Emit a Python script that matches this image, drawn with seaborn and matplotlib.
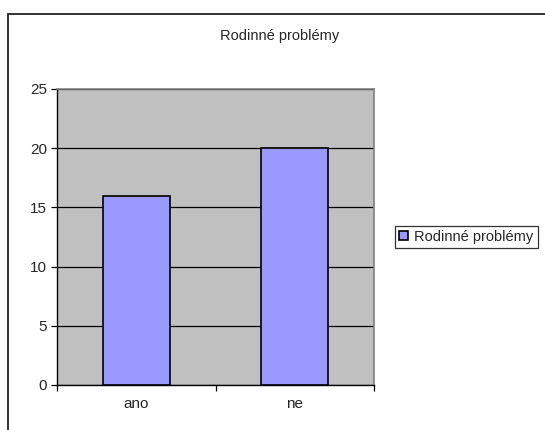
import matplotlib
matplotlib.use("Agg")
import matplotlib.pyplot as plt
import seaborn as sns
import pandas as pd
from matplotlib.patches import Rectangle
from matplotlib.ticker import FixedLocator

categories = ["ano", "ne"]
values = [16, 20]
series_name = "Rodinné problémy"
title = "Rodinné problémy"
yticks = [0, 5, 10, 15, 20, 25]

sns.set_theme(style="white")
plt.rcParams["font.family"] = ["Liberation Sans", "DejaVu Sans"]

fig = plt.figure(figsize=(5.45, 4.3), dpi=100)
fig.patch.set_facecolor("white")

# chart-area frame
fig.patches.append(Rectangle((8 / 545, -0.1), 1.2, (430 - 14) / 430 + 0.1,
                             transform=fig.transFigure, fill=False,
                             edgecolor="#222222", linewidth=1.3))

ax = fig.add_axes([57 / 545, 45 / 430, (374 - 57) / 545, (385 - 89) / 430])
ax.set_facecolor("#C0C0C0")

df = pd.DataFrame({"kategorie": categories, "pocet": values})
sns.barplot(data=df, x="kategorie", y="pocet", color="#9999FF",
            edgecolor="black", linewidth=1.2, width=0.42, saturation=1,
            label=series_name, ax=ax, zorder=3)

ax.set_xlim(-0.5, len(categories) - 0.5)
ax.set_ylim(0, 25)
ax.set_yticks(yticks)
ax.yaxis.grid(True, color="black", linewidth=0.9, zorder=1)
ax.set_axisbelow(True)
ax.set_xlabel("")
ax.set_ylabel("")

for side in ["top", "right"]:
    ax.spines[side].set_color("#808080")
    ax.spines[side].set_linewidth(1.2)
for side in ["left", "bottom"]:
    ax.spines[side].set_color("black")
    ax.spines[side].set_linewidth(1.0)

ax.tick_params(axis="y", direction="out", length=4, width=0.9, color="black",
               labelsize=11, pad=3, left=True)
ax.tick_params(axis="x", which="major", length=0, labelsize=11, pad=9)
ax.xaxis.set_minor_locator(FixedLocator([-0.5, 0.5, 1.5]))
ax.tick_params(axis="x", which="minor", direction="out", length=4,
               width=0.9, color="black", bottom=True)

fig.text(280 / 545, 1 - 36 / 430, title, ha="center", va="center", fontsize=10.5)

leg = ax.legend(loc="center left", bbox_to_anchor=(395 / 545, 1 - 237 / 430),
                bbox_transform=fig.transFigure, frameon=True, fancybox=False,
                fontsize=10.5, handlelength=0.6, handleheight=0.6,
                handletextpad=0.4, borderpad=0.3, borderaxespad=0)
leg.get_frame().set_edgecolor("black")
leg.get_frame().set_linewidth(0.9)

fig.savefig("out.png", dpi=100)
